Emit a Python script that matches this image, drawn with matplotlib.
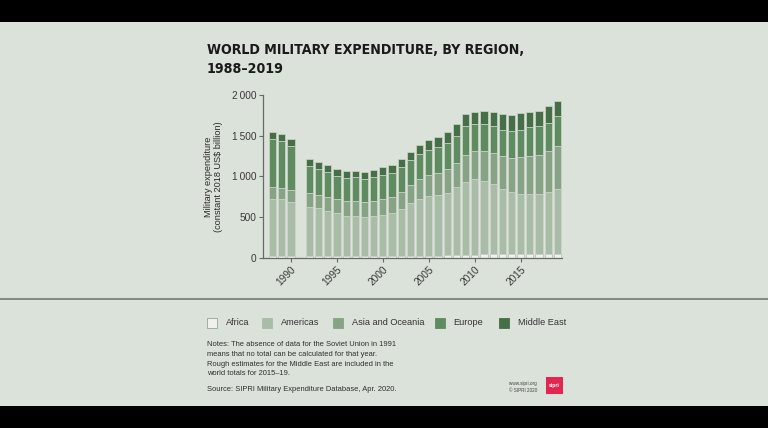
import numpy as np
import matplotlib
matplotlib.use("Agg")
import matplotlib.pyplot as plt
from matplotlib.patches import Rectangle
from matplotlib.ticker import FuncFormatter

years = [1988, 1989, 1990, 1991] + list(range(1992, 2020))
nan = np.nan
africa = [20, 19, 18, nan, 17, 17, 16, 16, 16, 16, 16, 17, 18, 19, 20, 21,
          23, 25, 27, 29, 33, 36, 38, 41, 43, 46, 47, 45, 43, 42, 41, 41]
americas = [707, 700, 664, nan, 611, 599, 563, 530, 497, 497, 489, 496, 512, 527, 584, 648,
            704, 739, 749, 768, 834, 892, 927, 908, 861, 804, 758, 744, 746, 738, 772, 811]
asia = [140, 143, 156, nan, 165, 160, 173, 173, 181, 181, 185, 185, 197, 206, 209, 230,
        242, 259, 267, 295, 303, 341, 345, 369, 386, 403, 427, 455, 464, 489, 505, 528]
europe = [591, 575, 542, nan, 336, 320, 303, 287, 288, 296, 283, 296, 292, 287, 308, 304,
          312, 308, 321, 321, 329, 349, 341, 333, 332, 320, 329, 329, 361, 353, 345, 360]
middle_east = [86, 87, 86, nan, 91, 83, 83, 82, 82, 78, 82, 86, 98, 103, 99, 103,
               111, 119, 127, 139, 148, 148, 148, 152, 169, 193, 197, 209, 177, 189, 202, 192]

regions = ["Africa", "Americas", "Asia and Oceania", "Europe", "Middle East"]
colors = ["#eef1ec", "#a9bca7", "#86a485", "#5f8b60", "#466f48"]
series = [africa, americas, asia, europe, middle_east]

yticks = [0, 500, 1000, 1500, 2000]
xticks = [1990, 1995, 2000, 2005, 2010, 2015]

BG = "#dbe2d9"
W, H = 768, 428
fig = plt.figure(figsize=(W / 100, H / 100), dpi=100, facecolor="black")

def fx(px):
    return px / W

def fy(py):
    return 1 - py / H

# panel
fig.patches.append(Rectangle((0, fy(406)), 1, (406 - 22) / H, transform=fig.transFigure,
                             facecolor=BG, edgecolor="none", zorder=-10))
fig.add_artist(plt.Line2D([0, 1], [fy(299), fy(299)], transform=fig.transFigure,
                          color="#7b827b", lw=1.3))

body_font = ["Liberation Sans", "DejaVu Sans"]

fig.text(fx(207), fy(42.5), "WORLD MILITARY EXPENDITURE, BY REGION,\n1988–2019",
         ha="left", va="top", fontsize=10.2, fontweight="bold", family=["DejaVu Sans"],
         fontstretch="condensed", color="#1a1a1a", linespacing=1.5)

ax = fig.add_axes([fx(263), fy(257.7), fx(562) - fx(263), fy(95.3) - fy(257.7)])
ax.set_facecolor(BG)
ax.patch.set_alpha(0)

x = np.array(years, dtype=float)
bottom = np.zeros(len(years))
for vals, c in zip(series, colors):
    v = np.array(vals, dtype=float)
    ax.bar(x, v, bottom=bottom, width=0.78, color=c,
           edgecolor="#cdd6cb" if c != colors[0] else "#b7c0b5", linewidth=0.5)
    bottom = bottom + np.nan_to_num(v)

ax.set_xlim(1986.95, 2019.5)
ax.set_ylim(0, 2000)
ax.set_yticks(yticks)
ax.yaxis.set_major_formatter(FuncFormatter(lambda v, p: f"{int(v):,}".replace(",", "\u2009")))
ax.set_xticks(xticks)
ax.set_xticklabels([str(t) for t in xticks], rotation=45, ha="right", rotation_mode="anchor")
for s in ["top", "right"]:
    ax.spines[s].set_visible(False)
for s in ["left", "bottom"]:
    ax.spines[s].set_color("#666b66")
    ax.spines[s].set_linewidth(0.9)
ax.tick_params(axis="both", colors="#666b66", labelcolor="#3a3a3a", labelsize=7.3,
               length=3, width=0.8, pad=2)
for lab in ax.get_xticklabels() + ax.get_yticklabels():
    lab.set_family(body_font)

ax.set_ylabel("Military expenditure\n(constant 2018 US$ billion)", fontsize=6.6,
              family=body_font, color="#2a2a2a", linespacing=1.2, labelpad=6)

# legend
sq = [207, 261.5, 332.5, 434.5, 498.5]
tx = [226, 280.5, 351.5, 453.5, 518.5]
for r, c, s, t in zip(regions, colors, sq, tx):
    fig.patches.append(Rectangle((fx(s), fy(327.5)), 10 / W, 10 / H, transform=fig.transFigure,
                                 facecolor=c, edgecolor="#9aa398" if c == colors[0] else c,
                                 linewidth=0.6))
    fig.text(fx(t), fy(322.5), r, ha="left", va="center", fontsize=6.6, family=body_font,
             color="#333333")

notes = ("Notes: The absence of data for the Soviet Union in 1991\n"
         "means that no total can be calculated for that year.\n"
         "Rough estimates for the Middle East are included in the\n"
         "world totals for 2015–19.")
fig.text(fx(207), fy(341.5), notes, ha="left", va="top", fontsize=5.45, family=body_font,
         color="#2e2e2e", linespacing=1.5)
fig.text(fx(207), fy(389.5), "Source: SIPRI Military Expenditure Database, Apr. 2020.",
         ha="left", va="center", fontsize=5.45, family=body_font, color="#2e2e2e")

fig.text(fx(537), fy(386.5), "www.sipri.org\n© SIPRI 2020", ha="right", va="center",
         fontsize=3.3, family=body_font, color="#444444", linespacing=1.5)
fig.patches.append(Rectangle((fx(546), fy(393.5)), 16.5 / W, 16.5 / H, transform=fig.transFigure,
                             facecolor="#e3254f", edgecolor="none"))
fig.text(fx(554.2), fy(385.5), "sipri", ha="center", va="center", fontsize=3.6,
         fontweight="bold", family=body_font, color="white")

fig.savefig("out.png", dpi=100, facecolor=fig.get_facecolor())
